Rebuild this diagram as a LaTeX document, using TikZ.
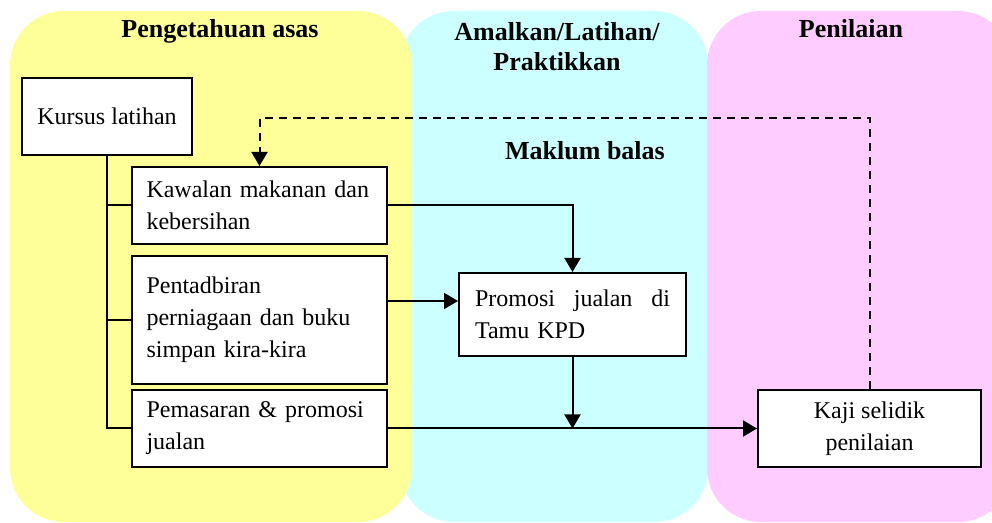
\documentclass[tikz,border=0pt]{standalone}
\usepackage{fontspec}
\setmainfont{Liberation Serif}
\usepackage{xcolor}
\usetikzlibrary{arrows.meta, positioning}
\definecolor{panelyellow}{HTML}{FFFF99}
\definecolor{panelcyan}{HTML}{CCFFFF}
\definecolor{panelpink}{HTML}{FFCCFF}

\begin{document}
\begin{tikzpicture}[
  x=0.5pt, y=-0.5pt,
  panel/.style={rounded corners=27pt},
  head/.style={font=\fontsize{13}{15}\selectfont\bfseries, align=center, inner sep=0pt},
  box/.style={draw, line width=1pt, fill=white, minimum height=38.5pt, font=\fontsize{12}{16}\selectfont, inner ysep=2pt},
  leftbox/.style={box, text width=113pt, inner xsep=7.25pt, align=left},
  arr/.style={-{Triangle[length=7pt,width=8pt]}, line width=1pt},
  link/.style={line width=1pt}
]
\useasboundingbox (0,0) rectangle (992,523);
\begin{scope}
\clip (0,0) rectangle (992,523);
\fill[panelcyan, panel] (400,11) rectangle (708,522);
\fill[panelyellow, panel] (10,11) rectangle (412,522);
\fill[panelpink, panel] (707,11) rectangle (1012,522);
\end{scope}

\node[head, anchor=base] (asas) at (220,38) {Pengetahuan asas};
\node[head] (amalan) at (557,47) {Amalkan/Latihan/\\Praktikkan};
\node[head, anchor=base] (nilai) at (851,38) {Penilaian};
\node[head, anchor=base] (maklum) at (585,160) {Maklum balas};

\node[box, minimum width=85pt] (kursus) at (107,116.5) {Kursus latihan};
\node[leftbox, anchor=north west] (kawalan) at (131,166) {\mbox{Kawalan makanan dan}\\kebersihan};
\node[leftbox, below=5pt of kawalan, minimum height=64pt] (pentadbiran) {Pentadbiran\\perniagaan dan buku\\simpan kira-kira};
\node[leftbox, below=2pt of pentadbiran] (pemasaran) {Pemasaran \& promosi\\jualan};
\node[box, anchor=north west, text width=97.5pt, inner xsep=8pt, minimum height=41.5pt, align=left] (promosi) at (458,272) {Promosi \hfill jualan \hfill di\\Tamu KPD};
\coordinate (kajiw) at (757,0);
\node[box, anchor=west, minimum width=111.5pt, align=center] (kaji) at (pemasaran.east -| kajiw) {Kaji selidik\\penilaian};

\draw[link] (kursus.south) |- (kawalan.west);
\draw[link] (kursus.south) |- (pentadbiran.west);
\draw[link] (kursus.south) |- (pemasaran.west);
\draw[arr] (kawalan.east) -| (promosi.north);
\coordinate (pin) at ([yshift=9.5pt]pentadbiran.east);
\draw[arr] (pin) -- (pin -| promosi.west);
\draw[arr] (pemasaran.east) -- (kaji.west);
\draw[arr] (promosi.south) -- (promosi.south |- pemasaran.east);
\coordinate (balas) at (0,118);
\draw[arr, dash pattern=on 4pt off 3pt] (kaji.north) |- (balas -| kawalan.north) -- (kawalan.north);
\end{tikzpicture}
\end{document}
